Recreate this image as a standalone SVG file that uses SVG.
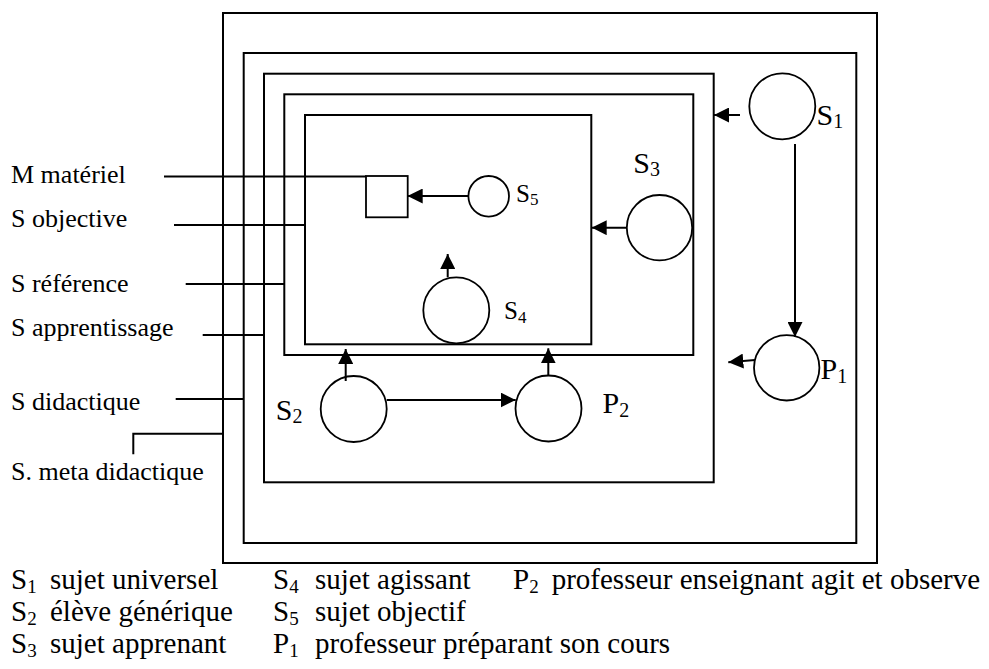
<svg xmlns="http://www.w3.org/2000/svg" width="989" height="669" viewBox="0 0 989 669">
<style>
.box{fill:none;stroke:#000;stroke-width:2}
.node{fill:#fff;stroke:#000;stroke-width:1.8}
.ln{fill:none;stroke:#000;stroke-width:2}
.arr{fill:none;stroke:#000;stroke-width:2;marker-end:url(#ah)}
text{font-family:"Liberation Serif","Times New Roman",serif;fill:#000}
.lab{font-size:26px}
.leg{font-size:29px}
.big{font-size:30px}
.sm{font-size:25px}
</style>
<defs>
<marker id="ah" markerUnits="userSpaceOnUse" markerWidth="15" markerHeight="15" refX="15" refY="7.5" orient="auto">
<path d="M0,0 L15,7.5 L0,15 z" fill="#000"/>
</marker>
</defs>
<g id="frames">
<rect id="s-meta" class="box" x="223" y="13" width="654" height="550"/>
<rect id="s-didactique" class="box" x="243.7" y="53" width="612.6" height="490"/>
<rect id="s-apprentissage" class="box" x="264" y="73.7" width="449.7" height="408.6"/>
<rect id="s-reference" class="box" x="284.3" y="94.3" width="409" height="260.7"/>
<rect id="s-objective" class="box" x="305" y="115" width="286.3" height="229.3"/>
</g>
<g id="labels">
<g id="lab-m"><text class="lab" x="11" y="183">M matériel</text></g>
<g id="lab-obj"><text class="lab" x="11" y="227">S objective</text></g>
<g id="lab-ref"><text class="lab" x="11" y="292">S référence</text></g>
<g id="lab-app"><text class="lab" x="11" y="335.5">S apprentissage</text></g>
<g id="lab-did"><text class="lab" x="11" y="410">S didactique</text></g>
<g id="lab-meta"><text class="lab" x="11" y="480">S. meta didactique</text></g>
</g>
<g id="M"><rect class="node" x="366" y="176" width="41.7" height="41.3"/></g>
<g id="S1"><circle class="node" cx="782.3" cy="106.3" r="33"/><text class="big" x="816.5" y="125">S<tspan font-size="20" dy="3">1</tspan></text></g>
<g id="S3"><circle class="node" cx="659.5" cy="227.7" r="32.7"/><text class="big" x="633.3" y="173">S<tspan font-size="20" dy="3">3</tspan></text></g>
<g id="S5"><circle class="node" cx="488.7" cy="196.3" r="20.3"/><text class="sm" x="516" y="202">S<tspan font-size="17" dy="3">5</tspan></text></g>
<g id="S4"><circle class="node" cx="456.3" cy="310.3" r="33"/><text class="sm" x="504" y="319">S<tspan font-size="17" dy="4">4</tspan></text></g>
<g id="S2"><circle class="node" cx="353.7" cy="409" r="33"/><text class="big" x="275.7" y="420">S<tspan font-size="20" dy="3">2</tspan></text></g>
<g id="P2"><circle class="node" cx="548.5" cy="408.5" r="33"/><text class="big" x="602.5" y="413">P<tspan font-size="20" dy="4">2</tspan></text></g>
<g id="P1"><circle class="node" cx="786.7" cy="367.8" r="32.7"/><text class="big" x="820.5" y="379">P<tspan font-size="20" dy="4">1</tspan></text></g>
<g id="connectors">
<line class="ln" x1="164" y1="176.5" x2="366" y2="176.5"/>
<line class="ln" x1="174" y1="225" x2="305" y2="225"/>
<line class="ln" x1="185.7" y1="284" x2="284.3" y2="284"/>
<line class="ln" x1="202.7" y1="335" x2="264" y2="335"/>
<line class="ln" x1="175.7" y1="399" x2="243.7" y2="399"/>
<polyline class="ln" points="133.3,454.3 133.3,433.7 224,433.7"/>
<line class="arr" x1="740" y1="115" x2="714" y2="115"/>
<line class="arr" x1="626.7" y1="227.7" x2="591.7" y2="227.7"/>
<line class="arr" x1="468.3" y1="196" x2="407.7" y2="196"/>
<line class="arr" x1="795" y1="144" x2="795" y2="337"/>
<line class="arr" x1="755" y1="360" x2="728.3" y2="362.3"/>
<line class="arr" x1="447.7" y1="277.3" x2="447.7" y2="254"/>
<line class="arr" x1="345.7" y1="381" x2="345.7" y2="349"/>
<line class="arr" x1="548.3" y1="376" x2="548.3" y2="348.3"/>
<line class="arr" x1="386.7" y1="400" x2="515.7" y2="400"/>
</g>
<g id="legend">
<text class="leg" x="11" y="589">S<tspan font-size="19" dy="4">1</tspan><tspan x="50" dy="-4">sujet universel</tspan></text>
<text class="leg" x="11" y="621">S<tspan font-size="19" dy="4">2</tspan><tspan x="50" dy="-4">élève générique</tspan></text>
<text class="leg" x="11" y="653">S<tspan font-size="19" dy="4">3</tspan><tspan x="50" dy="-4">sujet apprenant</tspan></text>
<text class="leg" x="273" y="589">S<tspan font-size="19" dy="4">4</tspan><tspan x="315" dy="-4">sujet agissant</tspan></text>
<text class="leg" x="273" y="621">S<tspan font-size="19" dy="4">5</tspan><tspan x="315" dy="-4">sujet objectif</tspan></text>
<text class="leg" x="273" y="653">P<tspan font-size="19" dy="4">1</tspan><tspan x="315" dy="-4">professeur préparant son cours</tspan></text>
<text class="leg" x="513" y="589">P<tspan font-size="19" dy="4">2</tspan><tspan x="551.7" dy="-4">professeur enseignant agit et observe</tspan></text>
</g>
</svg>
